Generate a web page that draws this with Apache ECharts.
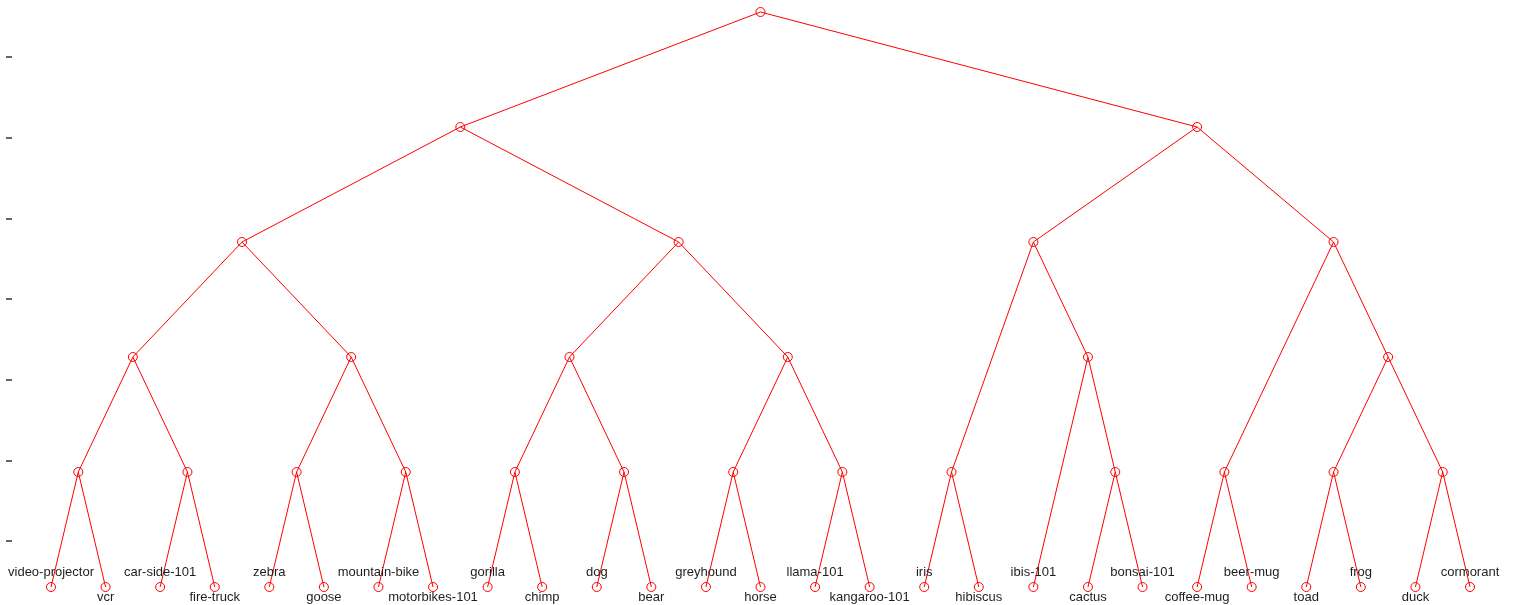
<!DOCTYPE html>
<html>
<head>
<meta charset="utf-8">
<script src="https://cdn.jsdelivr.net/npm/echarts@6/dist/echarts.min.js"></script>
<style>
html,body{margin:0;padding:0;background:#fff;}
#chart{width:1514px;height:605px;}
</style>
</head>
<body>
<div id="chart"></div>
<script>
// Leaf categories (left to right)
const leafNames = ['video-projector','vcr','car-side-101','fire-truck','zebra','goose','mountain-bike','motorbikes-101','gorilla','chimp','dog','bear','greyhound','horse','llama-101','kangaroo-101','iris','hibiscus','ibis-101','cactus','bonsai-101','coffee-mug','beer-mug','toad','frog','duck','cormorant'];
// Hierarchy: nested pairs of leaf indices
const tree = [[[[[0,1],[2,3]],[[4,5],[6,7]]],[[[8,9],[10,11]],[[12,13],[14,15]]]],[[[16,17],[18,[19,20]]],[[21,22],[[23,24],[25,26]]]]];
// Left axis tick values
const yTicks = [1,2,3,4,5,6,7];

const nodes = [];
const links = [];
function build(t) {
  if (typeof t === 'number') {
    const idx = nodes.length;
    nodes.push({name: leafNames[t], value: [t, 0], leaf: true, li: t});
    return {idx, leaves: [t], h: 0};
  }
  const kids = t.map(build);
  const leaves = [].concat(...kids.map(k => k.leaves));
  const h = 1 + Math.max(...kids.map(k => k.h));
  const x = leaves.reduce((a, b) => a + b, 0) / leaves.length;
  const idx = nodes.length;
  nodes.push({name: 'n' + idx, value: [x, h], leaf: false});
  kids.forEach(k => links.push({source: idx, target: k.idx}));
  return {idx, leaves, h};
}
build(tree);

const data = nodes.map(n => ({
  name: n.name,
  value: n.value,
  label: n.leaf ? {
    show: true,
    position: 'inside',
    offset: [0, n.li % 2 === 0 ? -15 : 10],
    formatter: '{b}',
    fontFamily: 'Liberation Sans, Arial, sans-serif',
    fontSize: 13,
    color: '#1e1e1e'
  } : {show: false}
}));

const chart = echarts.init(document.getElementById('chart'), null, {renderer: 'canvas'});
chart.setOption({
  animation: false,
  backgroundColor: '#fff',
  grid: {left: 51, right: 44, top: 12, bottom: 18},
  xAxis: {type: 'value', min: 0, max: leafNames.length - 1, show: false},
  yAxis: [
    {type: 'value', min: 0, max: 5, show: false},
    {
      type: 'value', position: 'left', offset: 39,
      min: 0.43, max: 7.558,
      axisLine: {show: false},
      axisLabel: {show: false},
      splitLine: {show: false},
      axisTick: {show: true, length: 6, customValues: yTicks, lineStyle: {color: '#666', width: 2}}
    }
  ],
  series: [{
    type: 'graph',
    coordinateSystem: 'cartesian2d',
    xAxisIndex: 0,
    yAxisIndex: 0,
    symbol: 'circle',
    symbolSize: 9,
    itemStyle: {color: 'rgba(0,0,0,0)', borderColor: '#ff0000', borderWidth: 1},
    lineStyle: {color: '#ff0000', width: 1, opacity: 1},
    emphasis: {disabled: true},
    data: data,
    links: links,
    silent: true
  }]
});
</script>
</body>
</html>
